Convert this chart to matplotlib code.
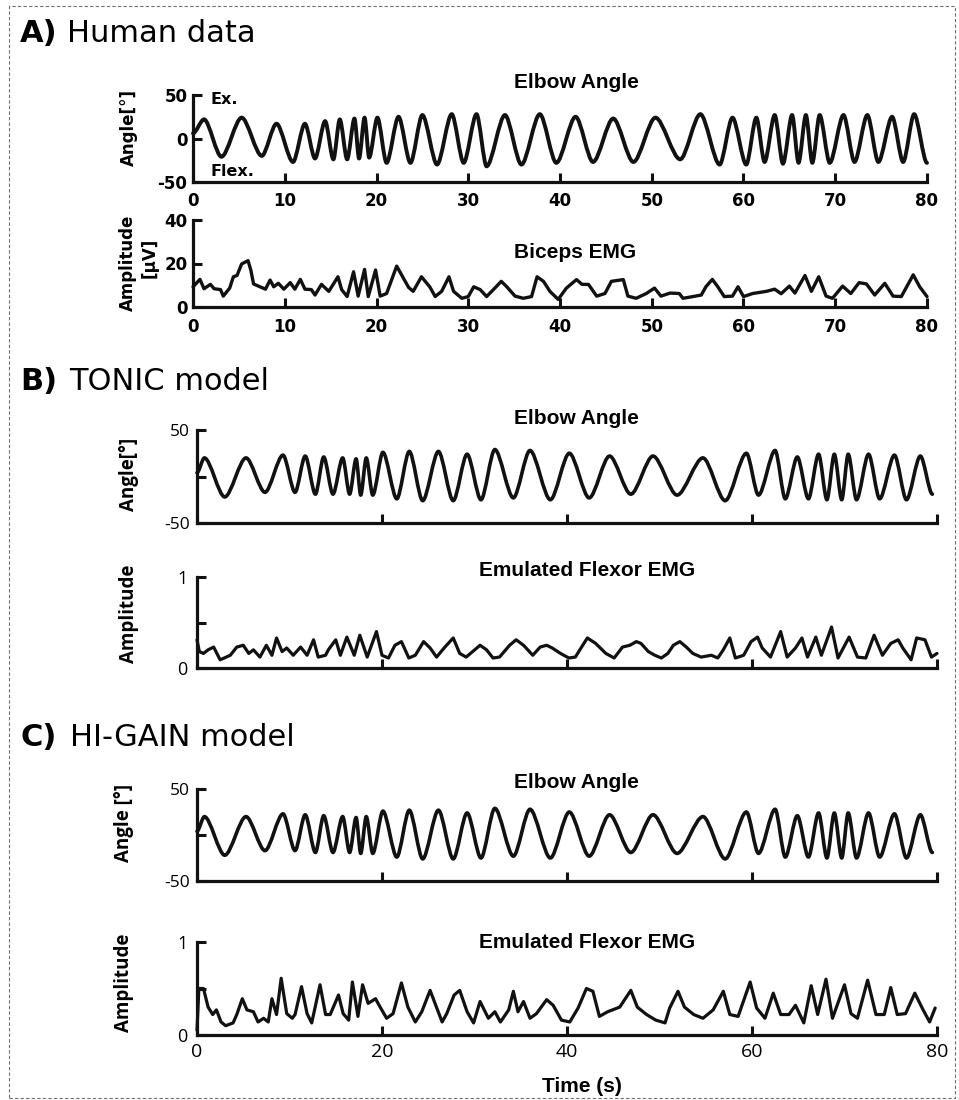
import matplotlib
matplotlib.use("Agg")
import matplotlib.pyplot as plt
from matplotlib.patches import Rectangle, PathPatch
from matplotlib.path import Path

# ---------------- data ----------------
# A) human elbow angle (turning points, s / deg)
human_angle_t = [0, 1.2, 3.1, 5.3, 7.5, 9.1, 10.9, 12.2, 13.3, 14.4, 15.3, 16.0, 16.8, 17.6, 18.1,
                 18.7, 19.2, 20.1, 21.1, 22.4, 23.7, 25.0, 26.6, 28.2, 29.5, 30.9, 32.0, 34.0, 35.8,
                 37.8, 39.6, 41.7, 43.6, 45.8, 48.0, 50.4, 53.1, 55.3, 57.4, 58.8, 60.3, 61.4, 62.3,
                 63.4, 64.3, 65.3, 66.0, 66.8, 67.5, 68.3, 69.4, 70.9, 72.1, 73.5, 74.7, 76.2, 77.4,
                 78.6, 80]
human_angle_v = [6, 22, -21, 24, -20, 17, -27, 17, -23, 20, -24, 22, -24, 23, -23,
                 24, -22, 24, -28, 25, -28, 27, -30, 28, -28, 28, -32, 27, -30,
                 28, -28, 25, -27, 23, -27, 24, -24, 28, -30, 24, -30, 24, -27,
                 27, -29, 27, -28, 27, -28, 27, -28, 27, -27, 27, -27, 25, -27,
                 28, -28]

# A) biceps EMG (uV)
human_emg_t = [0, 0.76, 1.2, 1.9, 2.3, 3.0, 3.3, 4.0, 4.4, 4.8, 5.3, 6.0, 6.3, 6.6, 7.3, 7.9, 8.4,
               8.8, 9.3, 9.9, 10.6, 11.1, 11.7, 12.2, 12.9, 13.3, 14.0, 14.8, 15.8, 16.2, 16.8,
               17.5, 18.0, 18.7, 19.1, 19.9, 20.4, 21.1, 22.2, 23.5, 24.0, 24.9, 25.8, 26.4, 27.1,
               27.9, 28.4, 29.3, 30.0, 30.6, 31.3, 32.0, 32.9, 33.6, 34.2, 35.1, 36.0, 36.9, 37.5,
               38.2, 38.9, 39.8, 40.7, 41.8, 42.4, 43.1, 44.0, 44.9, 45.6, 46.9, 47.4, 48.3, 49.4,
               50.3, 51.0, 52.0, 53.0, 53.4, 54.5, 55.4, 55.9, 56.6, 57.2, 57.9, 58.8, 59.4, 60.0,
               61.0, 62.5, 63.4, 64.1, 65.0, 65.6, 66.7, 67.4, 68.2, 69.0, 69.7, 70.8, 71.7, 72.6,
               73.4, 74.3, 75.4, 76.3, 77.2, 78.5, 79.2, 80.0]
human_emg_v = [9.3, 12.7, 8.4, 10.4, 8.4, 8.0, 5.0, 8.7, 13.9, 14.5, 19.8, 21.3, 17.0, 10.6, 9.3,
               8.2, 12.4, 9.3, 10.9, 8.2, 11.2, 8.2, 12.7, 8.2, 8.0, 5.5, 10.4, 7.2, 13.9, 8.0,
               4.8, 16.2, 5.0, 17.3, 4.8, 17.0, 5.0, 6.2, 18.8, 9.0, 7.2, 13.9, 9.3, 4.8, 7.2,
               13.9, 7.2, 4.0, 4.8, 9.3, 8.0, 4.8, 8.7, 11.8, 9.3, 5.0, 4.0, 4.8, 13.9, 11.8,
               7.2, 3.5, 8.7, 12.6, 10.4, 10.4, 5.0, 6.2, 11.8, 12.6, 5.0, 4.0, 6.2, 8.7, 5.0,
               6.4, 6.2, 4.0, 4.8, 5.5, 9.3, 12.7, 9.3, 4.8, 5.0, 9.3, 4.8, 6.2, 7.2, 8.2,
               6.1, 9.6, 6.4, 14.5, 7.2, 13.9, 5.0, 4.0, 9.6, 6.2, 11.2, 10.6, 5.5, 10.9, 5.0,
               4.8, 14.8, 9.3, 4.8]

# B/C) model elbow angle (turning points)
model_angle_t = [0, 0.8, 3.0, 5.3, 7.35, 9.3, 10.6, 11.7, 12.8, 13.7, 14.7, 15.75, 16.5, 17.2, 17.7,
                 18.3, 19.0, 20.1, 21.6, 22.95, 24.4, 26.1, 27.7, 29.2, 30.7, 32.2, 34.2, 36.0,
                 38.2, 40.25, 42.4, 44.6, 46.9, 49.3, 51.9, 54.7, 57.1, 59.4, 60.7, 62.5, 63.6,
                 64.9, 66.1, 67.2, 68.1, 68.9, 69.7, 70.4, 71.3, 72.6, 73.8, 75.4, 76.7, 78.2, 79.5]
model_angle_v = [4, 20, -22, 20, -17, 23, -17, 22, -19, 21, -19, 20, -19, 19, -20,
                 20, -20, 26, -24, 27, -26, 27, -26, 24, -25, 29, -23, 28,
                 -25, 25, -23, 22, -19, 22, -20, 20, -26, 25, -20, 28, -24,
                 21, -24, 24, -25, 24, -25, 24, -25, 24, -24, 23, -25, 22, -19]

# B) TONIC emulated flexor EMG
tonic_emg_t = [0, 0.25, 0.7, 1.2, 1.8, 2.5, 3.6, 4.3, 5.0, 5.6, 6.1, 6.8, 7.5, 8.1, 8.6, 9.2, 9.7,
               10.4, 11.2, 11.9, 12.6, 13.1, 13.9, 14.2, 15.0, 15.5, 16.2, 17.0, 17.6, 18.4, 19.4,
               20.0, 20.7, 21.4, 22.1, 22.9, 23.6, 24.5, 25.2, 25.9, 26.8, 27.7, 28.4, 29.1,
               30.6, 31.3, 32.0, 32.7, 33.8, 34.5, 35.3, 36.3, 37.1, 37.8, 38.4, 39.3, 40.2,
               40.9, 41.7, 42.2, 43.1, 44.2, 45.1, 46.0, 46.8, 47.5, 48.0, 48.8, 49.5, 50.2,
               50.9, 51.5, 52.2, 52.9, 53.6, 54.5, 55.6, 56.3, 56.9, 57.6, 58.2, 59.1, 59.9,
               60.6, 61.1, 62.0, 63.1, 63.8, 64.7, 65.4, 66.0, 66.9, 67.5, 68.6, 69.3, 70.5,
               71.4, 72.3, 73.2, 74.1, 75.0, 75.8, 76.3, 77.2, 77.8, 78.7, 79.4, 80.0]
tonic_emg_v = [0.31, 0.18, 0.16, 0.20, 0.23, 0.09, 0.14, 0.23, 0.25, 0.16, 0.20, 0.12, 0.25, 0.14,
               0.33, 0.18, 0.22, 0.14, 0.23, 0.14, 0.31, 0.12, 0.14, 0.20, 0.31, 0.14, 0.34, 0.14,
               0.36, 0.12, 0.40, 0.14, 0.11, 0.25, 0.29, 0.11, 0.14, 0.29, 0.22, 0.12, 0.23, 0.33,
               0.16, 0.12,
               0.25, 0.20, 0.11, 0.12, 0.25, 0.31, 0.25, 0.14, 0.23, 0.25, 0.22, 0.16, 0.11, 0.12,
               0.25, 0.33, 0.27, 0.16, 0.11, 0.23, 0.25, 0.29, 0.27, 0.18, 0.14, 0.11, 0.16, 0.25,
               0.29, 0.23, 0.16, 0.12, 0.14, 0.11, 0.20, 0.33, 0.11, 0.14, 0.29, 0.34, 0.22, 0.12,
               0.40, 0.12, 0.22, 0.33, 0.12, 0.34, 0.14, 0.45, 0.11, 0.34, 0.12, 0.11, 0.36, 0.14,
               0.27, 0.31, 0.22, 0.09, 0.33, 0.31, 0.12, 0.16]

# C) HI-GAIN emulated flexor EMG
higain_emg_t = [0, 0.2, 0.7, 1.2, 1.7, 2.1, 2.6, 3.1, 3.9, 4.3, 4.9, 5.4, 6.1, 6.6, 7.2, 7.7, 8.1,
                8.6, 9.1, 9.7, 10.3, 10.6, 11.3, 11.9, 12.4, 13.3, 13.9, 14.4, 15.3, 15.8, 16.4,
                16.8, 17.4, 17.9, 18.5, 19.3, 19.8, 20.5, 21.2, 22.1, 22.8, 23.6, 24.3, 25.2,
                26.0, 26.5, 27.0, 27.8, 28.4, 29.2, 29.9, 30.6, 31.5, 32.2, 32.8, 33.7, 34.2,
                34.7, 35.3, 36.0, 36.7, 37.8, 38.5, 39.4, 40.3, 41.2, 42.1, 42.8, 43.5, 44.4,
                45.7, 46.9, 47.6, 48.6, 49.6, 50.6, 51.1, 52.0, 52.7, 53.7, 54.7, 55.8, 56.9,
                57.6, 58.5, 59.8, 60.5, 61.4, 62.3, 63.1, 64.0, 64.7, 65.6, 66.4, 67.1, 68.0,
                68.7, 70.0, 70.7, 71.4, 72.5, 73.4, 74.3, 75.0, 75.7, 76.6, 77.6, 78.5, 79.2, 79.8]
higain_emg_v = [0.05, 0.50, 0.50, 0.30, 0.22, 0.27, 0.14, 0.10, 0.13, 0.22, 0.39, 0.27, 0.25, 0.14,
                0.18, 0.14, 0.39, 0.22, 0.61, 0.23, 0.18, 0.22, 0.52, 0.23, 0.13, 0.54, 0.22, 0.22,
                0.43, 0.23, 0.16, 0.57, 0.20, 0.54, 0.34, 0.39, 0.30, 0.18, 0.23, 0.56, 0.30, 0.14,
                0.25, 0.48, 0.27, 0.14, 0.23, 0.43, 0.48, 0.25, 0.13, 0.36, 0.18, 0.25, 0.14, 0.27,
                0.47, 0.25, 0.36, 0.18, 0.23, 0.38, 0.32, 0.16, 0.14, 0.29, 0.50, 0.47, 0.20, 0.25,
                0.30, 0.48, 0.30, 0.22, 0.16, 0.13, 0.29, 0.47, 0.30, 0.22, 0.18, 0.27, 0.47, 0.22,
                0.20, 0.57, 0.29, 0.18, 0.45, 0.22, 0.22, 0.32, 0.13, 0.53, 0.22, 0.60, 0.18, 0.54,
                0.23, 0.18, 0.59, 0.22, 0.22, 0.51, 0.22, 0.23, 0.45, 0.27, 0.14, 0.29]

human_xticks = [0, 10, 20, 30, 40, 50, 60, 70, 80]
model_xticks = [0, 20, 40, 60, 80]
angle_yticks = [-50, 0, 50]
human_emg_yticks = [0, 20, 40]
model_emg_yticks = [0, 0.5, 1]

# ---------------- figure ----------------
W, H = 959, 1100
fig = plt.figure(figsize=(W / 100, H / 100), dpi=100)
fig.patch.set_facecolor("white")

def fx(x):
    return x / W

def fy(y):
    return 1 - y / H

def make_axes(x0, x1, ytop, ybot):
    return fig.add_axes([fx(x0), fy(ybot), (x1 - x0) / W, (ybot - ytop) / H])

def txt(x, y, s, **kw):
    kw.setdefault("va", "center")
    kw.setdefault("ha", "center")
    fig.text(fx(x), fy(y), s, color="black", **kw)

LC = "#111111"

def style(ax, ylim, xticks, yticks, ylabels, xlabels, tfont, tsize, xsize, xpad, ypad):
    ax.set_xlim(0, 80)
    ax.set_ylim(*ylim)
    for s in ("top", "right"):
        ax.spines[s].set_visible(False)
    for s in ("left", "bottom"):
        ax.spines[s].set_linewidth(2.3)
        ax.spines[s].set_color(LC)
    ax.set_facecolor("none")
    ax.set_xticks(xticks)
    ax.set_yticks(yticks)
    ax.tick_params(axis="both", direction="in", length=6.5, width=2.2, color=LC)
    ax.tick_params(axis="x", pad=xpad)
    ax.tick_params(axis="y", pad=ypad)
    ax.set_yticklabels(ylabels, family=tfont[0], fontweight=tfont[1], fontsize=tsize)
    if xlabels is None:
        ax.set_xticklabels([])
    else:
        ax.set_xticklabels(xlabels, family=tfont[0], fontweight=tfont[1], fontsize=xsize)

def trace(ax, t, v, lw=2.6):
    ax.plot(t, v, color=LC, lw=lw, solid_joinstyle="round", solid_capstyle="round", clip_on=False)

def smooth_trace(ax, t, v, lw=2.6, k=0.32):
    # smooth oscillation drawn through the turning points (horizontal tangents at extrema)
    verts = [(t[0], v[0])]
    codes = [Path.MOVETO]
    for i in range(len(t) - 1):
        dt = t[i + 1] - t[i]
        verts += [(t[i] + k * dt, v[i]), (t[i + 1] - k * dt, v[i + 1]), (t[i + 1], v[i + 1])]
        codes += [Path.CURVE4] * 3
    ax.add_patch(PathPatch(Path(verts, codes), fill=False, lw=lw, ec=LC,
                           capstyle="round", joinstyle="round", clip_on=False,
                           transform=ax.transData))

# ---- A) Human data ----
axA1 = make_axes(193, 927, 95, 182)
smooth_trace(axA1, human_angle_t, human_angle_v, 2.8, 0.3)
style(axA1, (-50, 50), human_xticks, angle_yticks, ["-50", "0", "50"],
      [str(v) for v in human_xticks], ("DejaVu Sans", "bold"), 12, 12, 7, 4)

axA2 = make_axes(193, 927, 220, 307)
trace(axA2, human_emg_t, human_emg_v, 2.4)
style(axA2, (0, 40), human_xticks, human_emg_yticks, ["0", "20", "40"],
      [str(v) for v in human_xticks], ("DejaVu Sans", "bold"), 12, 12, 8, 4)

# ---- B) TONIC model ----
axB1 = make_axes(197, 937, 430, 523)
smooth_trace(axB1, model_angle_t, model_angle_v, 2.6, 0.3)
style(axB1, (-50, 50), model_xticks, angle_yticks, ["-50", "", "50"], None,
      ("Open Sans", "normal"), 12.5, 14, 6, 5)

axB2 = make_axes(197, 937, 577, 668)
trace(axB2, tonic_emg_t, tonic_emg_v, 2.3)
style(axB2, (0, 1), model_xticks, model_emg_yticks, ["0", "", "1"], None,
      ("Open Sans", "normal"), 13, 14, 6, 7)

# ---- C) HI-GAIN model ----
axC1 = make_axes(197, 937, 789, 881)
smooth_trace(axC1, model_angle_t, model_angle_v, 2.6, 0.3)
style(axC1, (-50, 50), model_xticks, angle_yticks, ["-50", "", "50"], None,
      ("Open Sans", "normal"), 12.5, 14, 6, 5)

axC2 = make_axes(197, 937, 942, 1035)
trace(axC2, higain_emg_t, higain_emg_v, 2.3)
style(axC2, (0, 1), model_xticks, model_emg_yticks, ["0", "", "1"],
      [str(v) for v in model_xticks], ("Open Sans", "normal"), 13, 14, 6, 7)

# ---------------- texts ----------------
HEAD = dict(fontsize=22, family="DejaVu Sans", ha="left")
txt(20, 33, "A)", fontweight="bold", **HEAD)
txt(67, 33, "Human data", **HEAD)
txt(20, 382, "B)", fontweight="bold", **HEAD)
txt(69, 382, "TONIC model", **HEAD)
txt(20, 738, "C)", fontweight="bold", **HEAD)
txt(70, 738, "HI-GAIN model", **HEAD)

TITLE = dict(fontsize=15, family="Liberation Sans", fontweight="bold")
txt(576, 83, "Elbow Angle", **TITLE)
txt(575, 253, "Biceps EMG", **TITLE)
txt(576, 418, "Elbow Angle", **TITLE)
txt(587, 570, "Emulated Flexor EMG", **TITLE)
txt(576, 782, "Elbow Angle", **TITLE)
txt(587, 943, "Emulated Flexor EMG", **TITLE)
txt(582, 1087, "Time (s)", **TITLE)

# A labels
ALAB = dict(fontsize=12, family="DejaVu Sans", fontweight="bold")
txt(129, 128, "Angle[°]", rotation=90, **ALAB)
txt(128, 263, "Amplitude", rotation=90, **ALAB)
txt(150, 258, "[μV]", rotation=90, **ALAB)
txt(210, 99, "Ex.", ha="left", fontsize=11.5, family="DejaVu Sans", fontweight="bold")
txt(210, 172, "Flex.", ha="left", fontsize=11.5, family="DejaVu Sans", fontweight="bold")

# B / C labels
MLAB = dict(fontsize=13.5, family="Open Sans", fontweight="bold")
txt(129, 474, "Angle[°]", rotation=90, **MLAB)
txt(129, 614, "Amplitude", rotation=90, **MLAB)
txt(124, 823, "Angle [°]", rotation=90, **MLAB)
txt(124, 983, "Amplitude", rotation=90, **MLAB)

# dashed frame
fig.patches.append(Rectangle((fx(9), fy(1098)), (955 - 9) / W, (1098 - 6) / H,
                             transform=fig.transFigure, fill=False, edgecolor="#707070",
                             lw=0.8, ls=(0, (3, 2))))

fig.savefig("out.png", dpi=100, facecolor="white")
